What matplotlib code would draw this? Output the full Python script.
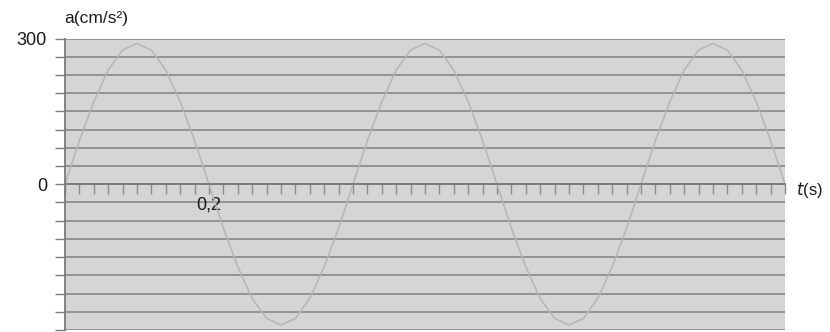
import matplotlib
matplotlib.use("Agg")
import matplotlib.pyplot as plt
import numpy as np

plt.rcParams['font.family'] = ['Liberation Sans', 'DejaVu Sans']

# acceleration samples every 0.02 s (cm/s^2)
t_step = 0.02
accel = [0, 90, 170, 235, 276, 290, 276, 235, 170, 90,
         0, -90, -170, -235, -276, -290, -276, -235, -170, -90,
         0, 90, 170, 235, 276, 290, 276, 235, 170, 90,
         0, -90, -170, -235, -276, -290, -276, -235, -170, -90,
         0, 90, 170, 235, 276, 290, 276, 235, 170, 90, 0]
time = [i * t_step for i in range(len(accel))]

y_ticks = [-300 + 37.5 * k for k in range(17)]
y_labels = {0: "0", 300: "300"}
x_label_ticks = [0.2]
x_label_text = ["0,2"]

fig = plt.figure(figsize=(8.3, 3.32), dpi=100)
ax = fig.add_axes([65 / 830, 1 - 330 / 332, 720 / 830, 291.5 / 332])
ax.set_facecolor('#d5d5d5')
ax.set_xlim(0, 1.0)
ax.set_ylim(-300, 300)

for yv in y_ticks:
    ax.axhline(yv, color='#8e8e8e', lw=1.3, zorder=1)

ax.plot(time, accel, color='#b5b5b5', lw=1.1, zorder=2)

for s in ['top', 'right']:
    ax.spines[s].set_visible(False)
ax.spines['left'].set_color('#7a7a7a')
ax.spines['left'].set_linewidth(1.3)
ax.spines['bottom'].set_position(('data', 0))
ax.spines['bottom'].set_color('#7a7a7a')
ax.spines['bottom'].set_linewidth(1.3)
ax.spines['bottom'].set_zorder(3)

ax.set_yticks(y_ticks)
ax.set_yticklabels([y_labels.get(v, "") for v in y_ticks])
ax.tick_params(axis='y', direction='out', length=7, color='#7a7a7a',
               width=1, labelsize=13, pad=6, labelcolor='#1a1a1a')

ax.set_xticks(np.arange(0, 1.0001, t_step), minor=True)
ax.set_xticks(x_label_ticks)
ax.set_xticklabels(x_label_text)
ax.tick_params(axis='x', which='both', direction='out', length=7,
               color='#8a8a8a', width=1)
ax.tick_params(axis='x', which='major', labelsize=13, pad=2,
               labelcolor='#1a1a1a')
for lbl in ax.get_xticklabels():
    lbl.set_x(lbl.get_position()[0])

fig.text(64 / 830, 1 - 19 / 332, "a(cm/s²)", fontsize=12.5, color='#1a1a1a',
         va='center', ha='left')
fig.text(796 / 830, 1 - 190 / 332, "$t$(s)", fontsize=12, color='#1a1a1a',
         va='center', ha='left')

fig.savefig("out.png", dpi=100)
